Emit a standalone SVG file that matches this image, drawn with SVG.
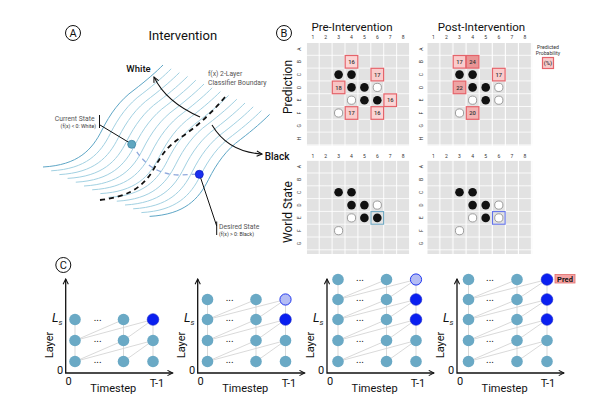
<svg xmlns="http://www.w3.org/2000/svg" xmlns:xlink="http://www.w3.org/1999/xlink" width="600" height="400" viewBox="0 0 600 400">
<style>
text{font-family:Roboto,"Liberation Sans",sans-serif;fill:#111}
.contour{fill:none;stroke:#a2d1e2;stroke-width:1}
.contourD{fill:none;stroke:#5ea6c6;stroke-width:1}
.lbl{font-size:13px}
.circ{fill:none;stroke:#111;stroke-width:1}
.circT{font-size:11px;text-anchor:middle}
.small{font-size:6.8px;fill:#555}
.tiny{font-size:5.2px;fill:#333}
.colnum{font-size:5px;fill:#333;text-anchor:middle}
.rowlet{font-size:5px;fill:#333;text-anchor:middle}
.blk{fill:#111}
.wht{fill:#fff;stroke:#888;stroke-width:0.8}
.pb{stroke:#e5636a;stroke-width:1.2}
.pbt{font-size:5.8px;fill:#333;text-anchor:middle;font-weight:500}
.node{fill:#6aa9c5}
.nodeB{fill:#0a1ff0;stroke:#1020c8;stroke-width:0.6}
.nodeL{fill:#b4bcf4;stroke:#2238ee;stroke-width:1}
.edge{fill:none;stroke:#cfcfcf;stroke-width:0.8}
.axis{fill:none;stroke:#111;stroke-width:1.3}
.axT{font-size:11px}
.dots{font-size:10px;text-anchor:middle}
</style>
<defs>
<marker id="arr" viewBox="0 0 8 8" refX="7" refY="4" markerWidth="7" markerHeight="7" markerUnits="userSpaceOnUse" orient="auto-start-reverse">
<path d="M1,1 L7,4 L1,7" fill="none" stroke="#111" stroke-width="1.2"/>
</marker>
<pattern id="gL" x="306.8" y="43" width="12.9" height="12.8" patternUnits="userSpaceOnUse"><rect width="12" height="12" fill="#e2e2e2"/></pattern>
<pattern id="gR" x="427.3" y="43" width="13.1" height="12.8" patternUnits="userSpaceOnUse"><rect width="12" height="12" fill="#e2e2e2"/></pattern>
<pattern id="gLb" x="306.8" y="160.7" width="12.9" height="12.8" patternUnits="userSpaceOnUse"><rect width="12" height="12" fill="#e2e2e2"/></pattern>
<pattern id="gRb" x="427.3" y="160.7" width="13.1" height="12.8" patternUnits="userSpaceOnUse"><rect width="12" height="12" fill="#e2e2e2"/></pattern>
<path id="cl" d="M43,167 C78,165 92,150 102,130 C110,114 120,100 134,90 C147,80 156,72 163,65"/>
</defs>
<rect width="600" height="400" fill="#fff"/>

<!-- Panel A -->
<g id="panelA">
<circle class="circ" cx="73" cy="33" r="7.5"/><text class="circT" x="73" y="37">A</text>
<text class="lbl" x="182.8" y="40" text-anchor="middle">Intervention</text>
<use xlink:href="#cl" class="contourD"/>
<use xlink:href="#cl" class="contour" transform="translate(8.2,3.8)"/>
<use xlink:href="#cl" class="contour" transform="translate(16.4,7.6)"/>
<use xlink:href="#cl" class="contour" transform="translate(24.6,11.4)"/>
<use xlink:href="#cl" class="contour" transform="translate(32.8,15.2)"/>
<use xlink:href="#cl" class="contour" transform="translate(41,19)"/>
<use xlink:href="#cl" class="contour" transform="translate(49.2,22.8)"/>
<use xlink:href="#cl" class="contour" transform="translate(57.4,26.6)"/>
<use xlink:href="#cl" class="contour" transform="translate(65.6,30.4)"/>
<use xlink:href="#cl" class="contour" transform="translate(73.8,34.2)"/>
<use xlink:href="#cl" class="contour" transform="translate(82,38)"/>
<use xlink:href="#cl" class="contour" transform="translate(90.2,41.8)"/>
<use xlink:href="#cl" class="contour" transform="translate(98.4,45.6)"/>
<use xlink:href="#cl" class="contourD" transform="translate(106.6,49.4)"/>
<path d="M100,200 C125,197 140,190 152,172 C160,158 165,148 180,138 C195,128 210,115 225,97" fill="none" stroke="#111" stroke-width="1.8" stroke-dasharray="5,4"/>
<path d="M132,144 C142,162 155,174 178,175 L199,174" fill="none" stroke="#8fa9dc" stroke-width="1.3" stroke-dasharray="5,4"/>
<path d="M200,117 Q166,102 154,77" fill="none" stroke="#111" stroke-width="1.1" marker-end="url(#arr)"/>
<path d="M212,125 Q228,152 262,154" fill="none" stroke="#111" stroke-width="1.1" marker-end="url(#arr)"/>
<text x="138.5" y="71.5" font-size="9.5" font-weight="500" text-anchor="middle">White</text>
<text x="277" y="160" font-size="10" font-weight="500" text-anchor="middle">Black</text>
<text class="small" x="208" y="75.8">f(x) 2-Layer</text>
<text class="small" x="208" y="84.8">Classifier Boundary</text>
<path d="M99.5,115 V128 M100,125 L131.5,144" fill="none" stroke="#111" stroke-width="1"/>
<path d="M216.7,221.5 V235 M199.5,174.5 L216.7,226" fill="none" stroke="#111" stroke-width="1"/>
<circle cx="131.7" cy="144.3" r="4" fill="#5ea6c0" stroke="#3f88a6" stroke-width="0.8"/>
<circle cx="199.3" cy="174.3" r="4" fill="#1a2ef0" stroke="#1020c0" stroke-width="0.8"/>
<text class="small" x="94.5" y="120.8" text-anchor="end">Current State</text>
<text class="tiny" x="96" y="128" text-anchor="end">(f(x) &lt; 0: White)</text>
<text class="small" x="219" y="229">Desired State</text>
<text class="tiny" x="219" y="236">(f(x) &gt; 0: Black)</text>
</g>

<!-- Panel B -->
<g id="panelB">
<circle class="circ" cx="284" cy="33" r="7.5"/><text class="circT" x="284" y="37">B</text>
<text x="352" y="30.5" font-size="11.5" text-anchor="middle">Pre-Intervention</text>
<text x="481.5" y="30.5" font-size="11.5" text-anchor="middle">Post-Intervention</text>
<text transform="translate(292,87) rotate(-90)" font-size="12" text-anchor="middle">Prediction</text>
<text transform="translate(292,212) rotate(-90)" font-size="12" text-anchor="middle">World State</text>
<text class="tiny" x="548" y="48.5" text-anchor="middle">Predicted</text>
<text class="tiny" x="548" y="55" text-anchor="middle">Probability</text>
<rect class="pb" x="542.5" y="57.5" width="11" height="11" fill="#f9cccc"/>
<text class="pbt" x="548" y="65">(%)</text>
</g>

<g id="grid-pre-pred">
<rect x="306.8" y="43" width="103.2" height="102.4" fill="url(#gL)"/>
<text class="colnum" x="312.8 325.7 338.6 351.5 364.4 377.3 390.2 403.1" y="38.5">12345678</text>
<text class="rowlet" transform="rotate(-90)" x="-49 -61.8 -74.6 -87.4 -100.2 -113 -125.8 -138.6" y="300.8">ABCDEFGH</text>
<rect class="pb" x="345.2" y="55.5" width="12.6" height="12.6" fill="#fbd5d5"/><text class="pbt" x="351.5" y="63.9">16</text>
<circle class="blk" cx="338.6" cy="74.6" r="4.3"/><circle class="blk" cx="351.5" cy="74.6" r="4.3"/>
<rect class="pb" x="371" y="68.3" width="12.6" height="12.6" fill="#f9cccc"/><text class="pbt" x="377.3" y="76.7">17</text>
<rect class="pb" x="332.3" y="81.1" width="12.6" height="12.6" fill="#f7c4c4"/><text class="pbt" x="338.6" y="89.5">18</text>
<circle class="blk" cx="351.5" cy="87.4" r="4.3"/><circle class="blk" cx="364.4" cy="87.4" r="4.3"/><circle class="wht" cx="377.3" cy="87.4" r="4.1"/>
<circle class="wht" cx="351.5" cy="100.2" r="4.1"/><circle class="blk" cx="364.4" cy="100.2" r="4.3"/><circle class="blk" cx="377.3" cy="100.2" r="4.3"/>
<rect class="pb" x="383.9" y="93.9" width="12.6" height="12.6" fill="#fbd5d5"/><text class="pbt" x="390.2" y="102.3">16</text>
<circle class="wht" cx="338.6" cy="113" r="4.1"/>
<rect class="pb" x="345.2" y="106.7" width="12.6" height="12.6" fill="#f9cccc"/><text class="pbt" x="351.5" y="115.1">17</text>
<rect class="pb" x="371" y="106.7" width="12.6" height="12.6" fill="#fbd5d5"/><text class="pbt" x="377.3" y="115.1">16</text>
</g>

<g id="grid-post-pred">
<rect x="427.3" y="43" width="104.8" height="102.4" fill="url(#gR)"/>
<text class="colnum" x="433.3 446.4 459.5 472.6 485.7 498.8 511.9 525" y="38.5">12345678</text>
<text class="rowlet" transform="rotate(-90)" x="-49 -61.8 -74.6 -87.4 -100.2 -113 -125.8 -138.6" y="423.3">ABCDEFGH</text>
<rect class="pb" x="453.2" y="55.5" width="12.6" height="12.6" fill="#f9cccc"/><text class="pbt" x="459.5" y="63.9">17</text>
<rect class="pb" x="466.3" y="55.5" width="12.6" height="12.6" fill="#e99595"/><text class="pbt" x="472.6" y="63.9">24</text>
<circle class="blk" cx="459.5" cy="74.6" r="4.3"/><circle class="blk" cx="472.6" cy="74.6" r="4.3"/>
<rect class="pb" x="492.5" y="68.3" width="12.6" height="12.6" fill="#f9cccc"/><text class="pbt" x="498.8" y="76.7">17</text>
<rect class="pb" x="453.2" y="81.1" width="12.6" height="12.6" fill="#eea4a4"/><text class="pbt" x="459.5" y="89.5">22</text>
<circle class="blk" cx="472.6" cy="87.4" r="4.3"/><circle class="blk" cx="485.7" cy="87.4" r="4.3"/><circle class="wht" cx="498.8" cy="87.4" r="4.1"/>
<circle class="wht" cx="472.6" cy="100.2" r="4.1"/><circle class="blk" cx="485.7" cy="100.2" r="4.3"/><circle class="wht" cx="498.8" cy="100.2" r="4.1"/>
<circle class="wht" cx="459.5" cy="113" r="4.1"/>
<rect class="pb" x="466.3" y="106.7" width="12.6" height="12.6" fill="#f3b3b3"/><text class="pbt" x="472.6" y="115.1">20</text>
</g>

<g id="grid-pre-world">
<rect x="306.8" y="160.7" width="103.2" height="93.3" fill="url(#gLb)"/>
<text class="colnum" x="312.8 325.7 338.6 351.5 364.4 377.3 390.2 403.1" y="157.5">12345678</text>
<text class="rowlet" transform="rotate(-90)" x="-166.7 -179.5 -192.3 -205.1 -217.9 -230.7 -243.5" y="300.8">ABCDEFG</text>
<circle class="blk" cx="338.6" cy="192.3" r="4.3"/><circle class="blk" cx="351.5" cy="192.3" r="4.3"/>
<circle class="blk" cx="351.5" cy="205.1" r="4.3"/><circle class="blk" cx="364.4" cy="205.1" r="4.3"/><circle class="wht" cx="377.3" cy="205.1" r="4.1"/>
<circle class="wht" cx="351.5" cy="217.9" r="4.1"/><circle class="blk" cx="364.4" cy="217.9" r="4.3"/><circle class="blk" cx="377.3" cy="217.9" r="4.3"/>
<rect x="371" y="211.6" width="12.6" height="12.6" fill="none" stroke="#6fa8c2" stroke-width="1.1"/>
<circle class="wht" cx="338.6" cy="230.7" r="4.1"/>
</g>

<g id="grid-post-world">
<rect x="427.3" y="160.7" width="104.8" height="93.3" fill="url(#gRb)"/>
<text class="colnum" x="433.3 446.4 459.5 472.6 485.7 498.8 511.9 525" y="157.5">12345678</text>
<text class="rowlet" transform="rotate(-90)" x="-166.7 -179.5 -192.3 -205.1 -217.9 -230.7 -243.5" y="423.3">ABCDEFG</text>
<circle class="blk" cx="459.5" cy="192.3" r="4.3"/><circle class="blk" cx="472.6" cy="192.3" r="4.3"/>
<circle class="blk" cx="472.6" cy="205.1" r="4.3"/><circle class="blk" cx="485.7" cy="205.1" r="4.3"/><circle class="wht" cx="498.8" cy="205.1" r="4.1"/>
<circle class="wht" cx="472.6" cy="217.9" r="4.1"/><circle class="blk" cx="485.7" cy="217.9" r="4.3"/><circle class="wht" cx="498.8" cy="217.9" r="4.1"/>
<rect x="492.5" y="211.6" width="12.6" height="12.6" fill="none" stroke="#6272ea" stroke-width="1.1"/>
<circle class="wht" cx="459.5" cy="230.7" r="4.1"/>
</g>

<!-- Panel C -->
<g id="panelC-label">
<circle class="circ" cx="63.3" cy="265" r="7.5"/><text class="circT" x="63.3" y="269">C</text>
</g>

<g id="connectors">
<path class="edge" d="M75,361.5V319.5 M123.5,361.5V319.5 M153,361.5V319.5 M75,361.5L123.5,340.5 M75,361.5L153,340.5 M123.5,361.5L153,340.5 M75,340.5L123.5,319.5 M75,340.5L153,319.5 M123.5,340.5L153,319.5"/>
<path class="edge" d="M207.5,361.5V299.5 M256,361.5V299.5 M285.5,361.5V299.5 M207.5,361.5L256,340.5 M207.5,361.5L285.5,340.5 M256,361.5L285.5,340.5 M207.5,340.5L256,319.5 M207.5,340.5L285.5,319.5 M256,340.5L285.5,319.5 M207.5,319.5L256,299.5 M207.5,319.5L285.5,299.5 M256,319.5L285.5,299.5"/>
<path class="edge" d="M338,361.5V279.5 M386.5,361.5V279.5 M416,361.5V279.5 M338,361.5L386.5,340.5 M338,361.5L416,340.5 M386.5,361.5L416,340.5 M338,340.5L386.5,319.5 M338,340.5L416,319.5 M386.5,340.5L416,319.5 M338,319.5L386.5,299.5 M338,319.5L416,299.5 M386.5,319.5L416,299.5 M338,299.5L386.5,279.5 M338,299.5L416,279.5 M386.5,299.5L416,279.5"/>
<path class="edge" d="M468.5,361.5V279.5 M517,361.5V279.5 M547,361.5V279.5 M468.5,361.5L517,340.5 M468.5,361.5L547,340.5 M517,361.5L547,340.5 M468.5,340.5L517,319.5 M468.5,340.5L547,319.5 M517,340.5L547,319.5 M468.5,319.5L517,299.5 M468.5,319.5L547,299.5 M517,319.5L547,299.5 M468.5,299.5L517,279.5 M468.5,299.5L547,279.5 M517,299.5L547,279.5"/>
</g>

<g id="plot1">
<path class="axis" d="M65.7,279 V373 H172.7" marker-start="url(#arr)" marker-end="url(#arr)"/>
<text class="axT" transform="translate(53,345) rotate(-90)" text-anchor="middle">Layer</text>
<text class="axT" x="60" y="374" text-anchor="middle">0</text>
<text class="axT" x="68.5" y="385" text-anchor="middle">0</text>
<text class="axT" x="113.3" y="392" text-anchor="middle">Timestep</text>
<text class="axT" x="157" y="387" text-anchor="middle">T-1</text>
<text x="52" y="322" font-family="'Liberation Serif',serif" font-style="italic" font-size="12.5">L<tspan font-size="8" dy="2.5">s</tspan></text>
<text class="dots" x="97.7" y="321">...</text><text class="dots" x="97.7" y="342">...</text><text class="dots" x="97.7" y="363">...</text>
<circle class="node" cx="75" cy="361.5" r="5.8"/><circle class="node" cx="75" cy="340.5" r="5.8"/><circle class="node" cx="75" cy="319.5" r="5.8"/>
<circle class="node" cx="123.5" cy="361.5" r="5.8"/><circle class="node" cx="123.5" cy="340.5" r="5.8"/><circle class="node" cx="123.5" cy="319.5" r="5.8"/>
<circle class="node" cx="153" cy="361.5" r="5.8"/><circle class="node" cx="153" cy="340.5" r="5.8"/><circle class="nodeB" cx="153" cy="319.5" r="5.8"/>
</g>

<g id="plot2">
<path class="axis" d="M197.7,279 V373 H304.7" marker-start="url(#arr)" marker-end="url(#arr)"/>
<text class="axT" transform="translate(185,345) rotate(-90)" text-anchor="middle">Layer</text>
<text class="axT" x="192" y="374" text-anchor="middle">0</text>
<text class="axT" x="200.5" y="385" text-anchor="middle">0</text>
<text class="axT" x="245.3" y="392" text-anchor="middle">Timestep</text>
<text class="axT" x="289" y="387" text-anchor="middle">T-1</text>
<text x="184" y="322" font-family="'Liberation Serif',serif" font-style="italic" font-size="12.5">L<tspan font-size="8" dy="2.5">s</tspan></text>
<text class="dots" x="229.7" y="301">...</text><text class="dots" x="229.7" y="321">...</text><text class="dots" x="229.7" y="342">...</text><text class="dots" x="229.7" y="363">...</text>
<circle class="node" cx="207.5" cy="361.5" r="5.8"/><circle class="node" cx="207.5" cy="340.5" r="5.8"/><circle class="node" cx="207.5" cy="319.5" r="5.8"/><circle class="node" cx="207.5" cy="299.5" r="5.8"/>
<circle class="node" cx="256" cy="361.5" r="5.8"/><circle class="node" cx="256" cy="340.5" r="5.8"/><circle class="node" cx="256" cy="319.5" r="5.8"/><circle class="node" cx="256" cy="299.5" r="5.8"/>
<circle class="node" cx="285.5" cy="361.5" r="5.8"/><circle class="node" cx="285.5" cy="340.5" r="5.8"/><circle class="nodeB" cx="285.5" cy="319.5" r="5.8"/><circle class="nodeL" cx="285.5" cy="299.5" r="5.6"/>
</g>

<g id="plot3">
<path class="axis" d="M327,279 V373 H434" marker-start="url(#arr)" marker-end="url(#arr)"/>
<text class="axT" transform="translate(314,345) rotate(-90)" text-anchor="middle">Layer</text>
<text class="axT" x="321" y="374" text-anchor="middle">0</text>
<text class="axT" x="330" y="385" text-anchor="middle">0</text>
<text class="axT" x="374.6" y="392" text-anchor="middle">Timestep</text>
<text class="axT" x="418" y="387" text-anchor="middle">T-1</text>
<text x="313" y="322" font-family="'Liberation Serif',serif" font-style="italic" font-size="12.5">L<tspan font-size="8" dy="2.5">s</tspan></text>
<text class="dots" x="360" y="281">...</text><text class="dots" x="360" y="301">...</text><text class="dots" x="360" y="321">...</text><text class="dots" x="360" y="342">...</text><text class="dots" x="360" y="363">...</text>
<circle class="node" cx="338" cy="361.5" r="5.8"/><circle class="node" cx="338" cy="340.5" r="5.8"/><circle class="node" cx="338" cy="319.5" r="5.8"/><circle class="node" cx="338" cy="299.5" r="5.8"/><circle class="node" cx="338" cy="279.5" r="5.8"/>
<circle class="node" cx="386.5" cy="361.5" r="5.8"/><circle class="node" cx="386.5" cy="340.5" r="5.8"/><circle class="node" cx="386.5" cy="319.5" r="5.8"/><circle class="node" cx="386.5" cy="299.5" r="5.8"/><circle class="node" cx="386.5" cy="279.5" r="5.8"/>
<circle class="node" cx="416" cy="361.5" r="5.8"/><circle class="node" cx="416" cy="340.5" r="5.8"/><circle class="nodeB" cx="416" cy="319.5" r="5.8"/><circle class="nodeB" cx="416" cy="299.5" r="5.8"/><circle class="nodeL" cx="416" cy="279.5" r="5.6"/>
</g>

<g id="plot4">
<path class="axis" d="M457,279 V373 H564" marker-start="url(#arr)" marker-end="url(#arr)"/>
<text class="axT" transform="translate(444,345) rotate(-90)" text-anchor="middle">Layer</text>
<text class="axT" x="451" y="374" text-anchor="middle">0</text>
<text class="axT" x="460" y="385" text-anchor="middle">0</text>
<text class="axT" x="504.6" y="392" text-anchor="middle">Timestep</text>
<text class="axT" x="548" y="387" text-anchor="middle">T-1</text>
<text x="443" y="322" font-family="'Liberation Serif',serif" font-style="italic" font-size="12.5">L<tspan font-size="8" dy="2.5">s</tspan></text>
<text class="dots" x="490" y="281">...</text><text class="dots" x="490" y="301">...</text><text class="dots" x="490" y="321">...</text><text class="dots" x="490" y="342">...</text><text class="dots" x="490" y="363">...</text>
<circle class="node" cx="468.5" cy="361.5" r="5.8"/><circle class="node" cx="468.5" cy="340.5" r="5.8"/><circle class="node" cx="468.5" cy="319.5" r="5.8"/><circle class="node" cx="468.5" cy="299.5" r="5.8"/><circle class="node" cx="468.5" cy="279.5" r="5.8"/>
<circle class="node" cx="517" cy="361.5" r="5.8"/><circle class="node" cx="517" cy="340.5" r="5.8"/><circle class="node" cx="517" cy="319.5" r="5.8"/><circle class="node" cx="517" cy="299.5" r="5.8"/><circle class="node" cx="517" cy="279.5" r="5.8"/>
<circle class="node" cx="547" cy="361.5" r="5.8"/><circle class="node" cx="547" cy="340.5" r="5.8"/><circle class="nodeB" cx="547" cy="319.5" r="5.8"/><circle class="nodeB" cx="547" cy="299.5" r="5.8"/><circle class="nodeB" cx="547" cy="279.5" r="5.8"/>
<rect x="555" y="274.5" width="20" height="8.5" fill="#f4a3a3" stroke="#e26b6b" stroke-width="0.8"/>
<text x="565" y="281.5" font-size="7.5" font-weight="bold" text-anchor="middle">Pred</text>
</g>
</svg>
